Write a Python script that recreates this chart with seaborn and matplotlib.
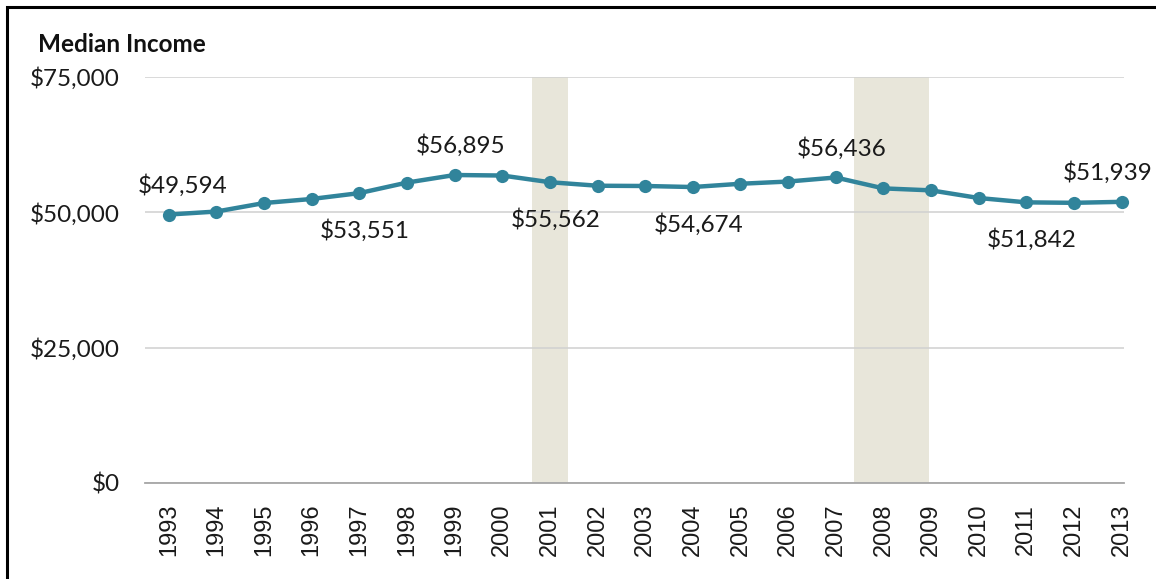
import numpy as np
import pandas as pd
import seaborn as sb
import matplotlib.pyplot as plt
from matplotlib.patches import Rectangle
from matplotlib.ticker import FuncFormatter

# median household income, 1993-2013
years = [1993, 1994, 1995, 1996, 1997, 1998, 1999, 2000, 2001, 2002, 2003,
         2004, 2005, 2006, 2007, 2008, 2009, 2010, 2011, 2012, 2013]
income = [49594, 50148, 51719, 52471, 53551, 55497, 56895, 56800, 55562, 54913, 54865,
          54674, 55278, 55689, 56436, 54423, 54059, 52646, 51842, 51759, 51939]

# labelled points: year -> above / below
label_years = [1993, 1997, 1999, 2001, 2004, 2007, 2011, 2013]
label_side = ['above', 'below', 'above', 'below', 'below', 'above', 'below', 'above']

# recessions (fractional years)
rec_start = [2001.17, 2007.92]
rec_end = [2001.92, 2009.50]

y_ticks = [0, 25000, 50000, 75000]

sb.set_style('white')
plt.rcParams['font.family'] = ['Lato', 'DejaVu Sans']

df = pd.DataFrame({'year': years, 'income': income})
df['pos'] = np.arange(len(df))

fig = plt.figure(figsize=(11.56, 5.79), dpi=100)
ax = fig.add_axes([145 / 1156, 1 - 483 / 579, (1124 - 145) / 1156, (483 - 77) / 579])

teal = '#31849B'

# recession bands (category k spans k-0.5..k+0.5, offset by half a year)
for s, e in zip(rec_start, rec_end):
    ax.axvspan(s - years[0] - 0.54, e - years[0] - 0.54, color='#E8E6DA', zorder=0, lw=0)

sb.lineplot(data=df, x='pos', y='income', ax=ax, color=teal, lw=3.2,
            marker='o', markersize=9.5, markeredgewidth=0, zorder=3, clip_on=False)

for yr, side in zip(label_years, label_side):
    i = years.index(yr)
    dy = 21 if side == 'above' else -27
    dx = 4
    if yr == 2013:
        dx = -10
    if yr == 1993:
        dx = 10
    ax.annotate(f'${income[i]:,}', (i, income[i]), xytext=(dx, dy), textcoords='offset points',
                ha='center', va='center', fontsize=17.5, color='#1a1a1a', zorder=5)

ax.set_xlim(-0.5, 20.05)
ax.set_ylim(0, 75000)
ax.set_yticks(y_ticks)
ax.yaxis.set_major_formatter(FuncFormatter(lambda v, p: f'${int(v):,}'))
ax.tick_params(axis='y', length=0, pad=18, labelsize=17.5, labelcolor='#1a1a1a')
ax.grid(axis='y', color='#D0D0D0', lw=1.1)
ax.grid(axis='x', visible=False)

ax.set_xticks(df['pos'])
ax.set_xticklabels([str(y) for y in years], rotation=90, family='Liberation Sans',
                   fontsize=17)
ax.set_xticks(np.arange(len(years)) - 0.5, minor=True)
ax.tick_params(axis='x', which='major', length=0, pad=15, labelcolor='#1a1a1a')
ax.tick_params(axis='x', which='minor', length=6, width=1.1, color='#A6A6A6', direction='out')

for sp in ['top', 'right', 'left']:
    ax.spines[sp].set_visible(False)
ax.spines['bottom'].set_color('#A6A6A6')
ax.spines['bottom'].set_linewidth(1.3)
ax.set_xlabel('')
ax.set_ylabel('')

fig.text(38 / 1156, 1 - 44 / 579, 'Median Income', fontsize=17.5, fontweight='bold',
         ha='left', va='center', color='#111111')

# outer frame (left and top edges visible)
fig.patches.append(Rectangle((7 / 1156, -0.1), 1.2, 1 - 7 / 579 + 0.1, transform=fig.transFigure,
                             fill=False, edgecolor='black', lw=2.2))

fig.savefig('out.png', dpi=100)
